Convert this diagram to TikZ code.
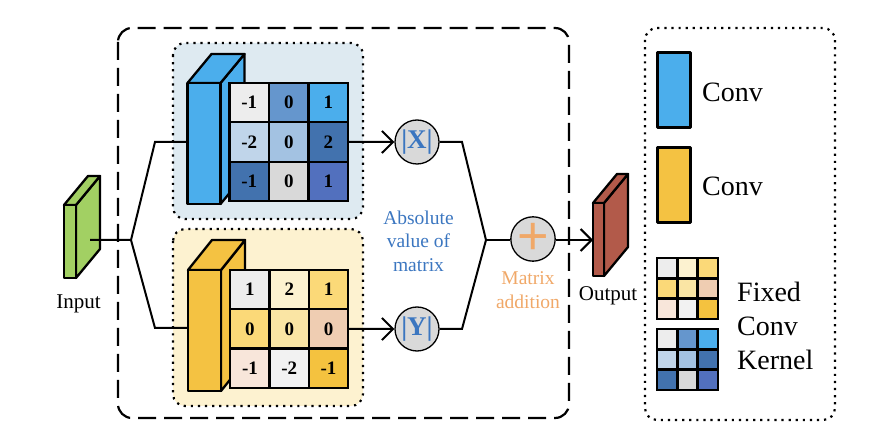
\documentclass[tikz,border=0pt]{standalone}
\usepackage{fontspec}
\setmainfont{Liberation Serif}
\newfontfamily\plusfont{Liberation Sans}
\usetikzlibrary{arrows.meta,calc}
\definecolor{bluePanel}{HTML}{DEEAF1}
\definecolor{yellowPanel}{HTML}{FDF2D0}
\definecolor{cubeBlue}{HTML}{4BAEEC}
\definecolor{cubeYellow}{HTML}{F4C242}
\definecolor{cubeGreen}{HTML}{A2D063}
\definecolor{cubeRed}{HTML}{B25A4A}
\definecolor{txtBlue}{HTML}{3B76C0}
\definecolor{txtOrange}{HTML}{F0A868}
\definecolor{opGray}{HTML}{D9D9D9}
\definecolor{bA}{HTML}{EDEDED}\definecolor{bB}{HTML}{6596CD}\definecolor{bC}{HTML}{4BAEEC}
\definecolor{bD}{HTML}{C0D5EA}\definecolor{bE}{HTML}{A3C2E2}\definecolor{bF}{HTML}{4272AE}
\definecolor{bG}{HTML}{4272AE}\definecolor{bH}{HTML}{D9D9D9}\definecolor{bI}{HTML}{5270BE}
\definecolor{yA}{HTML}{EDEDED}\definecolor{yB}{HTML}{FCF2D0}\definecolor{yC}{HTML}{FBD978}
\definecolor{yD}{HTML}{FBD978}\definecolor{yE}{HTML}{FAE5A4}\definecolor{yF}{HTML}{EFCDB2}
\definecolor{yG}{HTML}{F8E6DA}\definecolor{yH}{HTML}{F2F2F2}\definecolor{yI}{HTML}{F4C23F}
\tikzset{
  outerbox/.style={draw=black,line width=2.2pt,dash pattern=on 18pt off 8pt,rounded corners=14pt},
  dotbox/.style={line width=2.2pt,dash pattern=on 2.2pt off 4.9pt,rounded corners=12pt},
  face/.style={draw=black,line width=2.3pt,line join=round,outer sep=0pt},
  cell/.style={draw=black,line width=2.3pt,inner sep=0pt,outer sep=0pt,font=\fontsize{19}{19}\selectfont\bfseries},
  conn/.style={draw=black,line width=2pt,line join=miter},
  arrowconn/.style={conn,-{Straight Barb[length=11pt,width=22pt,line width=2pt]}},
  opnode/.style={circle,draw=black,line width=1.3pt,fill=opGray,minimum size=44pt,inner sep=0pt},
  lab/.style={align=center,inner sep=0pt,font=\fontsize{19.5}{23.5}\selectfont},
  iolab/.style={inner sep=0pt,font=\fontsize{21}{21}\selectfont},
  leglab/.style={inner sep=0pt,anchor=west,font=\fontsize{28}{34}\selectfont},
}
% name, x0, x1, y0, y1, dx, dy, fill
\newcommand{\cuboid}[8]{%
  \path[face,fill=#8] (#3,#4) -- ++(#6,#7) -- ++(0,#5-#4) -- ++(-#6,-#7) -- cycle;
  \path[face,fill=#8] (#2,#4) -- ++(#6,#7) -- ++(#3-#2,0) -- (#3,#4) -- cycle;
  \node[face,fill=#8,inner sep=0pt,minimum width=#3pt-#2pt,minimum height=#5pt-#4pt,anchor=north west] (#1) at (#2,#4) {};
}
% name, x0, y0, cell size (number), colour/text list
\newcommand{\kernelgrid}[5]{%
  \foreach \cc/\ctxt [count=\i from 0] in {#5}{%
    \pgfmathtruncatemacro{\rr}{div(\i,3)}%
    \pgfmathtruncatemacro{\kk}{mod(\i,3)}%
    \pgfmathsetmacro{\px}{#2+\kk*#4}%
    \pgfmathsetmacro{\py}{#3+\rr*#4}%
    \node[cell,fill=\cc,minimum size=#4pt,anchor=north west] (#1-\rr-\kk) at (\px,\py) {\ctxt};
  }%
}
\begin{document}
\begin{tikzpicture}[x=1pt,y=-1pt]
\useasboundingbox (0,0) rectangle (876,446);
% frames
\draw[outerbox] (118,28) rectangle (569,418);
\path[dotbox,draw=black,fill=bluePanel] (173,43) rectangle (363,219);
\path[dotbox,draw=black,fill=yellowPanel] (173,229) rectangle (363,406);
\path[dotbox,draw=black] (645,28) rectangle (835,420);
% input and output blocks
\cuboid{input}{64}{76}{205}{278}{24}{-29}{cubeGreen}
\cuboid{output}{593}{604}{203}{276}{24}{-29}{cubeRed}
\node[iolab] (inputlab) at (78.5,304) {Input};
\node[iolab] (outputlab) at (608,296) {Output};
% conv blocks
\cuboid{convblue}{187.5}{220.5}{83}{204}{24}{-29}{cubeBlue}
\cuboid{convyellow}{188}{221}{270}{391}{24}{-30}{cubeYellow}
% kernels
\kernelgrid{kx}{229.5}{82.7}{39.5}{bA/-1,bB/0,bC/1,bD/-2,bE/0,bF/2,bG/-1,bH/0,bI/1}
\kernelgrid{ky}{230.3}{270}{39.3}{yA/1,yB/2,yC/1,yD/0,yE/0,yF/0,yG/-1,yH/-2,yI/-1}
% operators
\node[opnode,text=txtBlue,font=\fontsize{27}{27}\selectfont\bfseries] (absx) at (417,142) {|X|};
\node[opnode,text=txtBlue,font=\fontsize{27}{27}\selectfont\bfseries] (absy) at (417,329) {|Y|};
\node[opnode,text=txtOrange,font=\fontsize{54}{54}\plusfont\selectfont] (plus) at (533,239) {+};
% connectors
\coordinate (instart) at (90,240);
\coordinate (split) at (131,240);
\coordinate (upin) at (155,142);
\coordinate (lowin) at (155,328);
\coordinate (merge) at (486,240);
\coordinate (upout) at (462,142);
\coordinate (lowout) at (462,329);
\draw[conn] (instart) -- (split) -- (upin) -- (convblue.west |- upin);
\draw[conn] (split) -- (lowin) -- (convyellow.west |- lowin);
\draw[arrowconn] (kx-1-2.east) -- (absx.west);
\draw[arrowconn] (ky-1-2.east) -- (absy.west);
\draw[conn] (absx.east) -- (upout) -- (merge) -- (lowout) -- (absy.east);
\draw[conn] (merge) -- (plus.west |- merge);
\draw[arrowconn] (plus.east |- merge) -- (output.west |- merge);
% labels
\node[lab,text=txtBlue] (abslab) at (418.5,241) {Absolute\\value of\\matrix};
\node[lab,text=txtOrange] (addlab) at (528,290) {Matrix\\addition};
% legend
\node[face,fill=cubeBlue,inner sep=0pt,minimum width=33pt,minimum height=75pt,anchor=north west] (legblue) at (657.5,52.5) {};
\node[face,fill=cubeYellow,inner sep=0pt,minimum width=33pt,minimum height=75pt,anchor=north west] (legyellow) at (657.5,147.5) {};
\node[leglab] (legbluelab) at (702,92) {Conv};
\node[leglab] (legyellowlab) at (702,186) {Conv};
\kernelgrid{ly}{657.3}{258.3}{20.15}{yA/{},yB/{},yC/{},yD/{},yE/{},yF/{},yG/{},yH/{},yI/{}}
\kernelgrid{lb}{657.3}{329.3}{20.15}{bA/{},bB/{},bC/{},bD/{},bE/{},bF/{},bG/{},bH/{},bI/{}}
\node[leglab,align=left] (kernellab) at (737,326) {Fixed\\Conv\\Kernel};
\end{tikzpicture}
\end{document}
